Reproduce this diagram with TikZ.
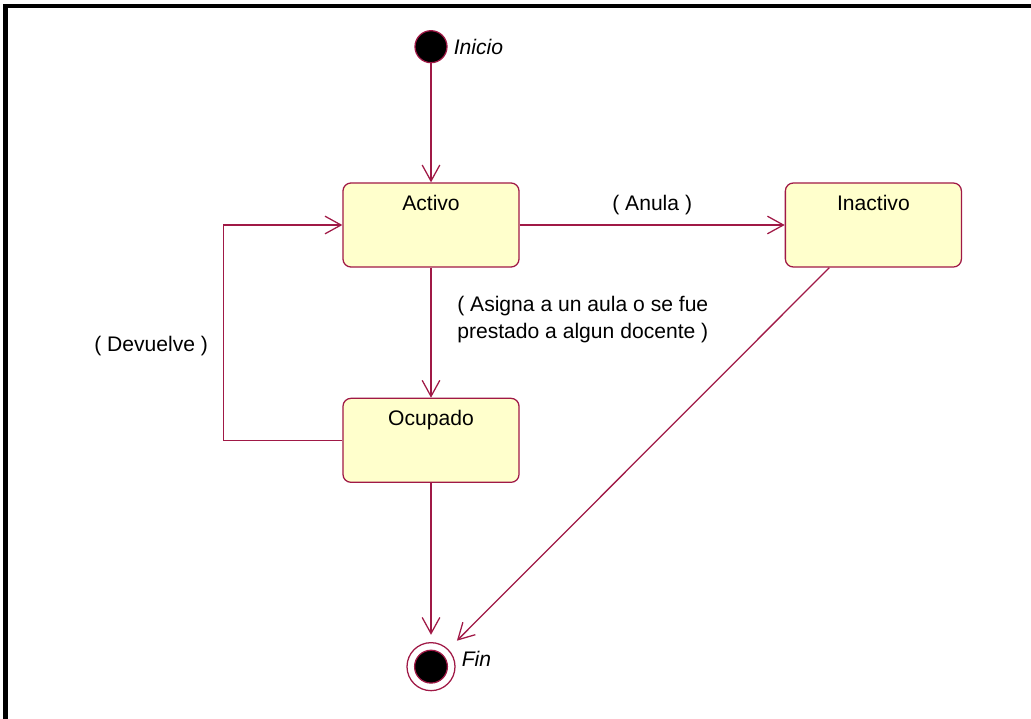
\documentclass[tikz,border=0pt]{standalone}
\usepackage{fontspec}
\setmainfont{Liberation Sans}
\usepackage{tikz}
\usetikzlibrary{arrows.meta}
\usetikzlibrary{positioning}
\definecolor{umlline}{RGB}{160,25,70}
\definecolor{umlfill}{RGB}{255,255,204}
\newcommand\mystatewidth{4.4cm}

\begin{document}
\begin{tikzpicture}[
    x=0.025cm, y=-0.025cm,
    font=\fontsize{15pt}{19pt}\selectfont,
    >={Straight Barb[length=4mm, width=4.4mm]},
    trans/.style = {
        ->,
        draw=umlline,
        line width=0.9pt
      },
    state/.style = {
        rectangle,
        rounded corners=0.2cm,
        minimum width=\mystatewidth,
        minimum height=2.1cm,
        inner ysep=0.275cm,
        text height=0.4cm,
        text depth=1.15cm,
        draw=umlline,
        fill=umlfill,
        line width=0.9pt
      },
    startstate/.style = {
        circle,
        inner sep=0pt,
        minimum size=0.8cm,
        draw=umlline,
        fill=black,
        line width=0.9pt
      },
    endstate/.style = {
        circle,
        inner sep=0pt,
        minimum size=1.2cm,
        draw=umlline,
        fill=white,
        line width=0.9pt,
        path picture={\filldraw [fill=black, draw=umlline] (path picture bounding box.center) circle (0.41cm);}
      },
    caption/.style = {
        font=\fontsize{15pt}{19pt}\selectfont\itshape
      },
    ]
    \useasboundingbox (0,0) rectangle (1031,718);
    \draw [line width=0.1cm] (5.5,740) |- (1040,5.5);

    \node (activo) [state] at (431,225) {Activo};
    \node (inactivo) [state, right=6.625cm of activo] {Inactivo};
    \node (ocupado) [state, below=3.25cm of activo] {Ocupado};
    \node (start) [startstate, above=2.975cm of activo] {};
    \node (fin) [endstate, below=3.975cm of ocupado] {};

    \node (inicio) [caption, right=0.03cm of start] {Inicio};
    \node (fin label) [caption, right=0.03cm of fin, yshift=0.2cm] {Fin};

    \draw [trans] (start) -- (activo);
    \draw [trans] (activo) -- node [above=0.12cm] {( Anula )} (inactivo);
    \draw [trans] (activo) -- node [pos=0.4, right=0.525cm, align=left] {( Asigna a un aula o se fue\\prestado a algun docente )} (ocupado);
    \draw [trans] (ocupado.west) -- ++(-119,0) |- node [pos=0.22, left=0.25cm] {( Devuelve )} (activo.west);
    \draw [trans, shorten >=0.18cm] (ocupado) -- (fin);
    \draw [trans, shorten >=0.3cm] ([xshift=-1.1cm]inactivo.south) -- (fin);
  \end{tikzpicture}
\end{document}
